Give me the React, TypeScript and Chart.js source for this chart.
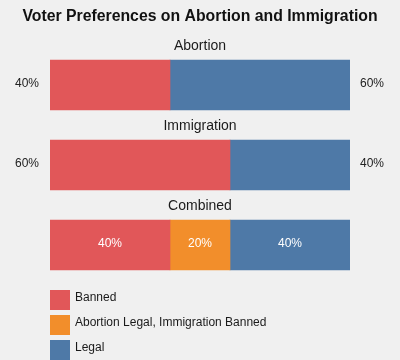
import React, { useEffect, useRef } from "react";
import { Chart, registerables } from "chart.js";

Chart.register(...registerables);

const chartTitle = "Voter Preferences on Abortion and Immigration";
const categories = ["Abortion", "Immigration", "Combined"];
const seriesLabels = ["Banned", "Abortion Legal, Immigration Banned", "Legal"];
const bannedValues = [40, 60, 40];
const mixedValues: (number | null)[] = [null, null, 20];
const legalValues = [60, 40, 40];
const labelsInside = [false, false, true];
const seriesColors = ["#e15759", "#f28e2b", "#4e79a7"];

const FONT = "'Liberation Sans', Arial, Helvetica, sans-serif";

const decorPlugin = {
  id: "decor",
  beforeDraw(chart: any) {
    const { ctx, width, height } = chart;
    ctx.save();
    ctx.fillStyle = "#f0f0f0";
    ctx.fillRect(0, 0, width, height);
    ctx.restore();
  },
  afterDatasetsDraw(chart: any) {
    const { ctx, chartArea } = chart;
    const cx = (chartArea.left + chartArea.right) / 2;
    ctx.save();
    // title
    ctx.fillStyle = "#111111";
    ctx.font = `bold 15.8px ${FONT}`;
    ctx.textAlign = "center";
    ctx.textBaseline = "middle";
    ctx.fillText(chartTitle, chart.width / 2, 17);

    const metas = chart.data.datasets.map((_: any, i: number) => chart.getDatasetMeta(i));
    categories.forEach((cat, idx) => {
      const bar = metas[0].data[idx];
      const top = bar.y - bar.height / 2;
      // subtitle
      ctx.fillStyle = "#1a1a1a";
      ctx.font = `14px ${FONT}`;
      ctx.textAlign = "center";
      ctx.textBaseline = "middle";
      ctx.fillText(cat, cx, top - 13.5);

      ctx.font = `12px ${FONT}`;
      const ty = bar.y - 1.8;
      if (labelsInside[idx]) {
        ctx.fillStyle = "#ffffff";
        chart.data.datasets.forEach((ds: any, di: number) => {
          const v = ds.data[idx];
          if (v == null || v === 0) return;
          const el = metas[di].data[idx];
          const mid = (el.x + el.base) / 2;
          ctx.fillText(`${v}%`, mid, ty);
        });
      } else {
        ctx.fillStyle = "#222222";
        const first = chart.data.datasets[0].data[idx];
        const last = chart.data.datasets[chart.data.datasets.length - 1].data[idx];
        ctx.fillText(`${first}%`, chartArea.left - 23, ty);
        ctx.fillText(`${last}%`, chartArea.right + 22, ty);
      }
    });

    // legend
    ctx.textAlign = "left";
    ctx.textBaseline = "middle";
    ctx.font = `12px ${FONT}`;
    chart.data.datasets.forEach((ds: any, i: number) => {
      const y = chartArea.bottom + 5 + i * 25;
      ctx.fillStyle = ds.backgroundColor;
      ctx.fillRect(chartArea.left, y, 20, 20);
      ctx.fillStyle = "#1a1a1a";
      ctx.fillText(ds.label, chartArea.left + 25, y + 7.8);
    });
    ctx.restore();
  },
};

export default function App() {
  const canvasRef = useRef<HTMLCanvasElement | null>(null);

  useEffect(() => {
    document.body.style.margin = "0";
    document.body.style.background = "#f0f0f0";
    const canvas = canvasRef.current;
    if (!canvas) return;
    const chart = new Chart(canvas, {
      type: "bar",
      data: {
        labels: categories,
        datasets: [
          { label: seriesLabels[0], data: bannedValues, backgroundColor: seriesColors[0], barThickness: 50, borderWidth: 0 },
          { label: seriesLabels[1], data: mixedValues, backgroundColor: seriesColors[1], barThickness: 50, borderWidth: 0 },
          { label: seriesLabels[2], data: legalValues, backgroundColor: seriesColors[2], barThickness: 50, borderWidth: 0 },
        ],
      },
      options: {
        indexAxis: "y",
        animation: false,
        responsive: false,
        maintainAspectRatio: false,
        devicePixelRatio: 1,
        layout: { padding: { left: 50, right: 50, top: 45, bottom: 75 } },
        scales: {
          x: { stacked: true, min: 0, max: 100, display: false },
          y: { stacked: true, display: false },
        },
        plugins: {
          legend: { display: false },
          title: { display: false },
          tooltip: { enabled: false },
        },
      },
      plugins: [decorPlugin],
    } as any);
    return () => chart.destroy();
  }, []);

  return (
    <div style={{ width: 400, height: 360, background: "#f0f0f0" }}>
      <canvas ref={canvasRef} width={400} height={360} style={{ display: "block", width: 400, height: 360 }} />
    </div>
  );
}
